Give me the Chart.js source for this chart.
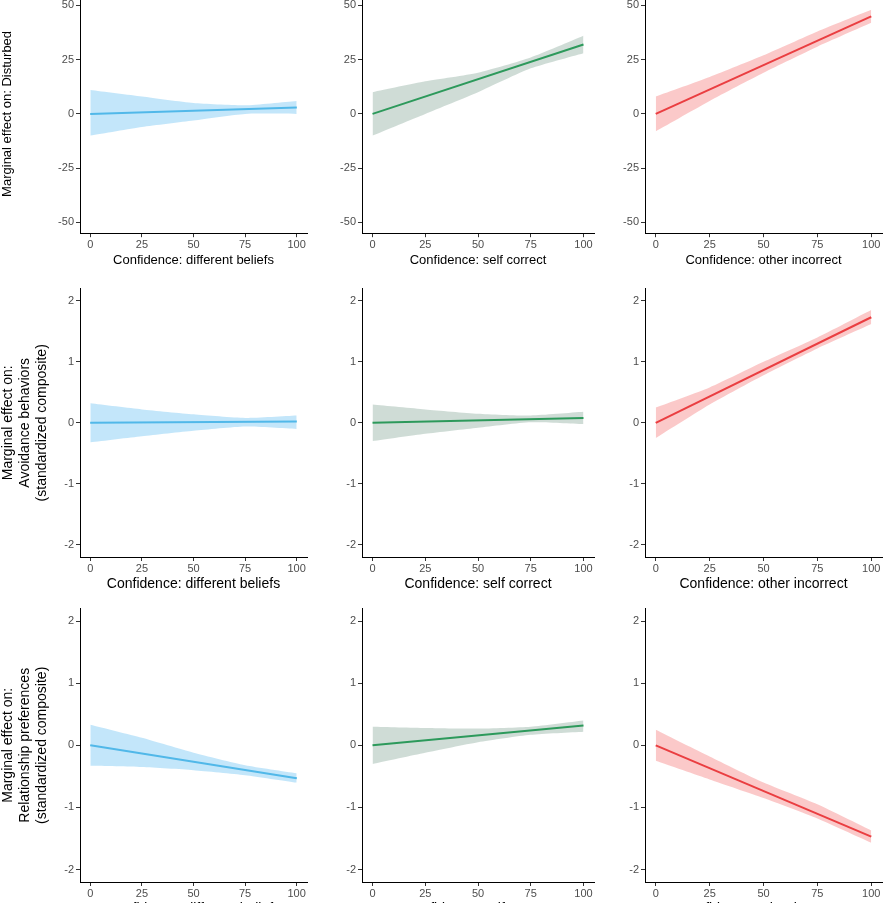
<!DOCTYPE html>
<html><head><meta charset="utf-8">
<script src="https://cdn.jsdelivr.net/npm/chart.js@4"></script>
<style>body{margin:0;background:#fff;width:885px;height:903px;overflow:hidden;position:relative;font-family:"Liberation Sans",Arial,sans-serif}
canvas{position:absolute}</style></head><body>
<script>
const xs=[0,25,50,75,100];
const xTitles=["Confidence: different beliefs","Confidence: self correct","Confidence: other incorrect"];
const yTitles=[["Marginal effect on: Disturbed"],["Marginal effect on:","Avoidance behaviors","(standardized composite)"],["Marginal effect on:","Relationship preferences","(standardized composite)"]];
const row1Ticks=[-50,-25,0,25,50];
const rowTicks=[-2,-1,0,1,2];
const line=[[0,3],[0,32],[0,45],[0,0.02],[0,0.08],[0,1.73],[0,-0.53],[0,0.32],[0,-1.47]];
const lower=[[-10,-6,-3,0,0],[-10,0,10,21,28],[-8,6,19,31,42],
 [-0.32,-0.22,-0.13,-0.06,-0.1],[-0.3,-0.18,-0.08,0.01,-0.02],[-0.25,0.3,0.78,1.22,1.62],
 [-0.33,-0.35,-0.4,-0.48,-0.6],[-0.3,-0.12,0.05,0.17,0.22],[-0.25,-0.55,-0.85,-1.18,-1.57]];
const upper=[[11,8,5,4,6],[10,15,19,26,36],[8,17,27,38,48],
 [0.32,0.22,0.14,0.08,0.12],[0.3,0.22,0.15,0.12,0.18],[0.25,0.58,1.0,1.4,1.85],
 [0.33,0.12,-0.12,-0.32,-0.45],[0.3,0.28,0.27,0.3,0.4],[0.25,-0.18,-0.6,-0.95,-1.37]];
const lineCol=["#1ba3dc","#17a050","#e3181d"];
const fillCol=["rgba(135,206,245,0.5)","rgba(95,140,120,0.3)","rgba(245,120,120,0.4)"];
const colL=[0,325,605],colW=[310,272,280],yAxW=[80,37,40];
const rowT=[-14,280,600],rowH=[282,313,318],rowMin=[-55,-2.2,-2.2],rowMax=[55,2.2,2.2];
for(let r=0;r<3;r++)for(let c=0;c<3;c++){
 const i=r*3+c;const cv=document.createElement('canvas');
 cv.width=colW[c];cv.height=rowH[r];cv.style.left=colL[c]+'px';cv.style.top=rowT[r]+'px';
 document.body.appendChild(cv);
 const ticks=r==0?row1Ticks:rowTicks;
 const grid={display:true,drawOnChartArea:false,drawTicks:true,tickLength:4,color:'#333'};
 new Chart(cv,{type:'line',data:{datasets:[
  {data:xs.map((x,k)=>({x,y:lower[i][k]})),borderWidth:0,pointRadius:0,fill:false,tension:0.2},
  {data:xs.map((x,k)=>({x,y:upper[i][k]})),borderWidth:0,pointRadius:0,fill:'-1',backgroundColor:fillCol[c],tension:0.2},
  {data:[{x:0,y:line[i][0]},{x:100,y:line[i][1]}],borderColor:lineCol[c],borderWidth:2,pointRadius:0,fill:false}
 ]},options:{responsive:false,animation:false,events:[],layout:{padding:{top:0,right:3,bottom:0,left:0}},
  plugins:{legend:{display:false},tooltip:{enabled:false}},
  scales:{x:{type:'linear',min:-5,max:105,grid:grid,border:{color:'#000',width:1},
    afterBuildTicks:a=>{a.ticks=xs.map(v=>({value:v}))},
    ticks:{color:'#4d4d4d',font:{size:11,family:'Liberation Sans'},padding:1},
    title:{display:true,text:xTitles[c],color:'#000',padding:{top:0,bottom:0},font:{size:r==0?13:14,family:'Liberation Sans'}}},
   y:{min:rowMin[r],max:rowMax[r],grid:grid,border:{color:'#000',width:1},
    afterBuildTicks:a=>{a.ticks=ticks.map(v=>({value:v}))},
    afterFit:a=>{a.width=yAxW[c]},
    ticks:{color:'#4d4d4d',font:{size:11,family:'Liberation Sans'},padding:2},
    title:{display:c==0,text:yTitles[r],color:'#000',padding:{top:0,bottom:2},font:{size:r==0?13:14,family:'Liberation Sans'},lineHeight:1.1}}}}});
}
</script></body></html>
